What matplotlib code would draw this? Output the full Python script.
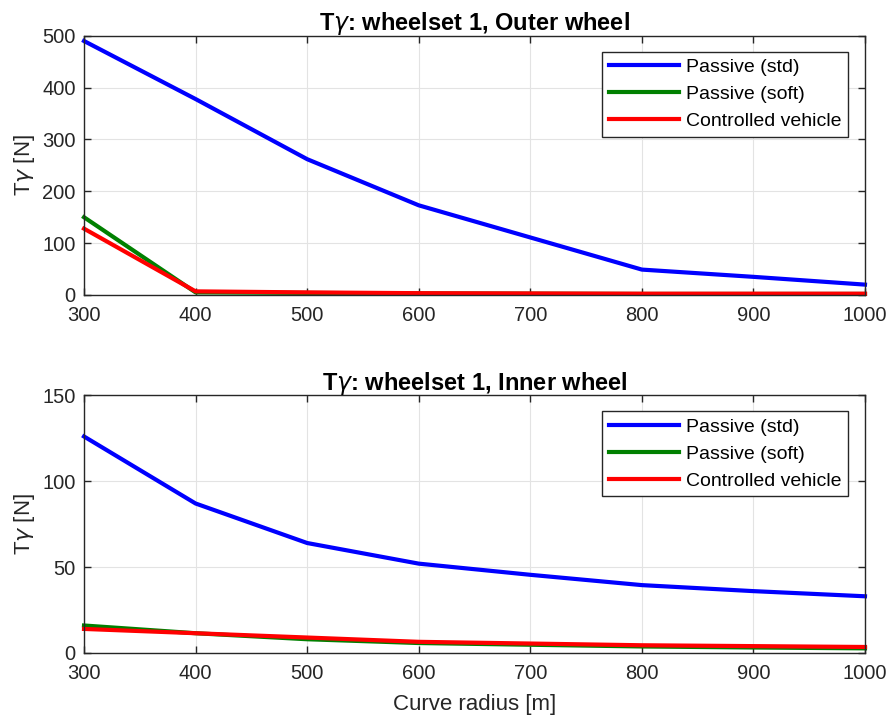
import matplotlib
matplotlib.use("Agg")
import matplotlib.pyplot as plt

plt.rcParams['font.family'] = ['Liberation Sans', 'DejaVu Sans']
plt.rcParams['mathtext.fontset'] = 'dejavusans'

radius = [300, 400, 500, 600, 700, 800, 900, 1000]
outer_std = [490, 378, 262, 173, 111, 49, 35, 20]
outer_soft = [150, 5, 4, 3, 2.5, 2, 2, 2]
outer_ctrl = [128, 7, 5, 3.5, 3, 2.5, 2.5, 2.5]
inner_std = [126, 87, 64, 52, 45.5, 39.5, 36, 33]
inner_soft = [16, 11.5, 8, 5.8, 4.8, 3.8, 3.2, 2.7]
inner_ctrl = [14, 11.5, 9, 6.5, 5.5, 4.5, 4, 3.5]
labels = ['Passive (std)', 'Passive (soft)', 'Controlled vehicle']
colors = ['#0000ff', '#008000', '#ff0000']

TICK = 14.5
LAB = 16
TITLE = 17
LEG = 14

fig = plt.figure(figsize=(8.89, 7.16), dpi=100)
ax1 = fig.add_axes([0.0945, 0.588, 0.8785, 0.362])
ax2 = fig.add_axes([0.0945, 0.088, 0.8785, 0.36])

def style(ax, ylim, yticks, title):
    ax.set_xlim(300, 1000)
    ax.set_ylim(*ylim)
    ax.set_xticks(range(300, 1001, 100))
    ax.set_yticks(yticks)
    ax.grid(True, color='#e3e3e3', linewidth=0.8)
    ax.set_axisbelow(True)
    ax.tick_params(direction='in', top=True, right=True, labelsize=TICK,
                   colors='#262626', length=5, width=1)
    ax.tick_params(axis='x', pad=8)
    ax.tick_params(axis='y', pad=6)
    for s in ax.spines.values():
        s.set_color('#262626')
        s.set_linewidth(1)
    ax.set_title(title, fontsize=TITLE, fontweight='bold', pad=4)
    ax.set_ylabel(r'T$\gamma$ [N]', fontsize=LAB, color='#262626', labelpad=4)

for ax, data in [(ax1, [outer_std, outer_soft, outer_ctrl]), (ax2, [inner_std, inner_soft, inner_ctrl])]:
    for d, c, l in zip(data, colors, labels):
        ax.plot(radius, d, color=c, linewidth=3, label=l, clip_on=False)
    leg = ax.legend(loc='upper right', bbox_to_anchor=(0.978, 0.938), fontsize=LEG,
                    fancybox=False, framealpha=1, edgecolor='#262626',
                    handlelength=3.6, borderpad=0.35, labelspacing=0.48,
                    handletextpad=0.35, borderaxespad=0)
    leg.get_frame().set_linewidth(1)

style(ax1, (0, 500), range(0, 501, 100), r'T$\gamma$: wheelset 1, Outer wheel')
style(ax2, (0, 150), range(0, 151, 50), r'T$\gamma$: wheelset 1, Inner wheel')
ax2.set_xlabel('Curve radius [m]', fontsize=LAB, color='#262626', labelpad=8)

fig.savefig('out.png', dpi=100, facecolor='white')
